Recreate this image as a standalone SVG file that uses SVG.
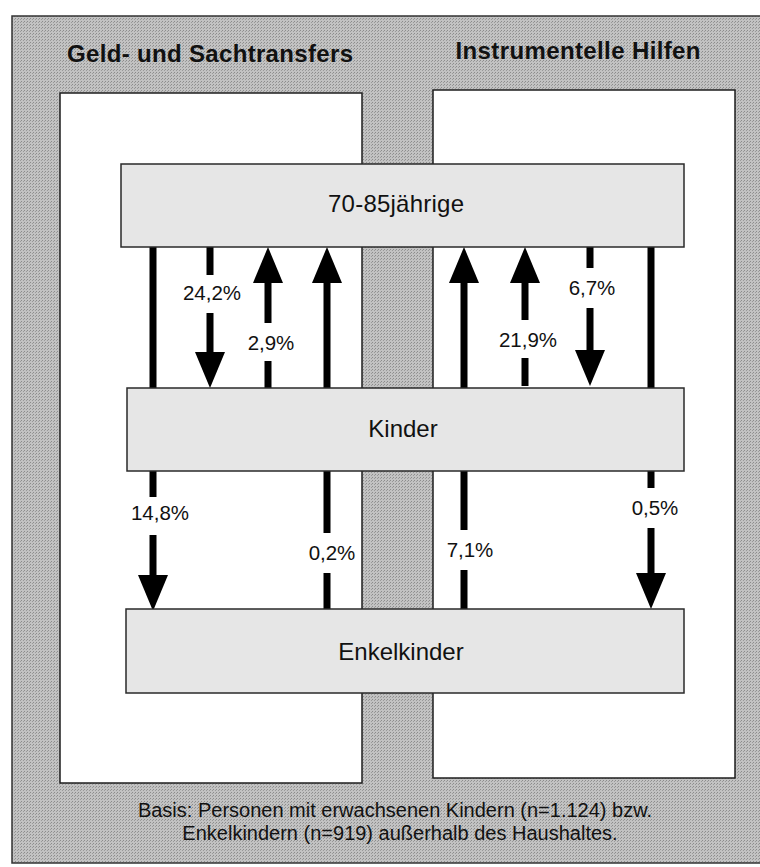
<svg xmlns="http://www.w3.org/2000/svg" width="760" height="867" viewBox="0 0 760 867">
  <style>
    .title { font-family: "Liberation Sans", Arial, sans-serif; font-weight: bold; font-size: 24px; fill: #111; text-anchor: middle; }
    .node-label { font-family: "Liberation Sans", Arial, sans-serif; font-size: 24px; fill: #111; text-anchor: middle; }
    .pct { font-family: "Liberation Sans", Arial, sans-serif; font-size: 20.5px; fill: #111; text-anchor: middle; }
    .foot { font-family: "Liberation Sans", Arial, sans-serif; font-size: 20px; fill: #111; text-anchor: middle; }
    .node-box { fill: #e6e6e6; stroke: #2a2a2a; stroke-width: 1.5; }
    .panel { fill: #ffffff; stroke: #1e1e1e; stroke-width: 1.5; }
    .flow { fill: none; stroke: #000; stroke-width: 7; }
    .flow-arrow { fill: none; stroke: #000; stroke-width: 7; marker-end: url(#head); }
  </style>
  <defs>
    <marker id="head" markerUnits="userSpaceOnUse" viewBox="0 -15 36 30" refX="0" refY="0" markerWidth="36" markerHeight="30" orient="auto">
      <path d="M0,-15 L36,0 L0,15 Z" fill="#000"/>
    </marker>
    <pattern id="dither" width="3" height="3" patternUnits="userSpaceOnUse">
      <rect width="3" height="3" fill="#c2c2c2"/>
      <rect x="0" y="0" width="1" height="1" fill="#8c8c8c"/>
      <rect x="2" y="1" width="1" height="1" fill="#9a9a9a"/>
    </pattern>
  </defs>

  <rect width="760" height="867" fill="#ffffff"/>

  <g id="frame">
    <rect x="12" y="16" width="752" height="847" fill="url(#dither)" stroke="#333" stroke-width="1.5"/>
  </g>

  <g id="panel-left">
    <rect class="panel" x="60" y="93" width="302" height="690"/>
    <text class="title" x="210" y="62" textLength="286" lengthAdjust="spacing">Geld- und Sachtransfers</text>
  </g>
  <g id="panel-right">
    <rect class="panel" x="433" y="90" width="302" height="688"/>
    <text class="title" x="578" y="59" textLength="245" lengthAdjust="spacing">Instrumentelle Hilfen</text>
  </g>

  <g id="connectors">
    <!-- Geld- und Sachtransfers -->
    <path id="c-alt-enkel-geld" class="flow-arrow" d="M153 247 V497 M153 535 V575"/>
    <text class="pct" x="160" y="520">14,8%</text>
    <path id="c-alt-kinder-geld" class="flow-arrow" d="M210 247 V275 M210 313 V352"/>
    <text class="pct" x="212" y="300">24,2%</text>
    <path id="c-kinder-alt-geld" class="flow-arrow" d="M268 388 V361 M268 323 V283"/>
    <text class="pct" x="271" y="350">2,9%</text>
    <path id="c-enkel-alt-geld" class="flow-arrow" d="M327 609 V573 M327 533 V283"/>
    <text class="pct" x="332" y="560">0,2%</text>
    <!-- Instrumentelle Hilfen -->
    <path id="c-enkel-alt-hilfe" class="flow-arrow" d="M464 609 V570 M464 530 V283"/>
    <text class="pct" x="470" y="557">7,1%</text>
    <path id="c-kinder-alt-hilfe" class="flow-arrow" d="M525 386 V358 M525 320 V283"/>
    <text class="pct" x="528" y="347">21,9%</text>
    <path id="c-alt-kinder-hilfe" class="flow-arrow" d="M590 247 V268 M590 308 V350"/>
    <text class="pct" x="592" y="295">6,7%</text>
    <path id="c-alt-enkel-hilfe" class="flow-arrow" d="M651 247 V488 M651 528 V573"/>
    <text class="pct" x="655" y="515">0,5%</text>
  </g>

  <g id="node-alte">
    <rect class="node-box" x="121" y="164" width="563" height="83"/>
    <text class="node-label" x="396" y="212" textLength="136" lengthAdjust="spacing">70-85jährige</text>
  </g>
  <g id="node-kinder">
    <rect class="node-box" x="127" y="388" width="557" height="83"/>
    <text class="node-label" x="403" y="437">Kinder</text>
  </g>
  <g id="node-enkel">
    <rect class="node-box" x="126" y="609" width="558" height="84"/>
    <text class="node-label" x="401" y="660">Enkelkinder</text>
  </g>

  <g id="footer">
    <text class="foot" x="395" y="817">Basis: Personen mit erwachsenen Kindern (n=1.124) bzw.</text>
    <text class="foot" x="400" y="840">Enkelkindern (n=919) außerhalb des Haushaltes.</text>
  </g>
</svg>
